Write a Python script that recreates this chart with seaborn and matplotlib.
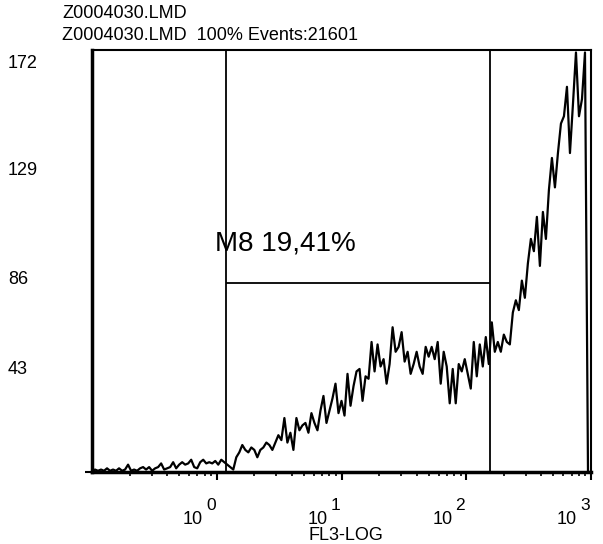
import numpy as np
import pandas as pd
import matplotlib
matplotlib.use('Agg')
import matplotlib.pyplot as plt
import matplotlib.transforms as mtransforms
import seaborn as sns

# histogram counts, channels evenly spaced in log10 from 10^-1 to 10^3
counts = [0, 1, 0.5, 1, 0.5, 1.5, 0.5, 1, 0.5, 1.5,
          0.5, 1, 3, 0.5, 1, 0.5, 1.5, 2, 1, 2,
          0.5, 1.5, 2, 3.5, 1, 1.5, 2, 4, 1.5, 3,
          4, 3, 3.5, 5, 2, 1.5, 4, 5, 3.5, 4,
          3.5, 4.5, 3, 5, 4,
          3, 2, 1, 6, 8, 11, 9, 8, 10, 9,
          6, 9, 10, 12, 11, 9, 12, 15, 13, 22,
          12, 16, 9, 22, 17, 19, 20, 16, 24, 20,
          17, 25, 31, 20, 25, 30, 36, 24, 29, 23,
          40, 27, 35, 41, 42, 29, 39, 38, 53, 41,
          52, 43, 46, 36, 44, 59, 49, 51, 57, 45,
          49, 40, 44, 49, 43, 40, 51, 47, 51, 46,
          53, 36, 49, 43, 28, 42, 28, 44, 41, 46,
          40, 34, 53, 39, 52, 43, 55, 44, 61, 49,
          53, 49, 56, 53, 52, 65, 70, 66, 78, 71,
          85, 95, 90, 104, 84, 106, 95, 115, 128, 116,
          130, 142, 145, 157, 130, 150, 171, 145, 152, 171,
          0, 0]
log_min, log_max = -1, 3
y_ticks = [43, 86, 129, 172]
decades = [0, 1, 2, 3]

gate_low = 1.18
gate_high = 156
gate_level = 77
gate_label = 'M8 19,41%'

title_lines = ['Z0004030.LMD', 'Z0004030.LMD  100% Events:21601']

df = pd.DataFrame({'channel': np.logspace(log_min, log_max, len(counts)),
                   'count': counts})

sns.set_style('white')
plt.rcParams['font.family'] = ['Liberation Sans', 'DejaVu Sans']
plt.rcParams['text.color'] = 'black'
plt.rcParams['axes.labelcolor'] = 'black'
plt.rcParams['xtick.color'] = 'black'
plt.rcParams['ytick.color'] = 'black'

fig = plt.figure(figsize=(6.03, 5.44), dpi=100)
ax = fig.add_axes([92 / 603, 1 - 472 / 544, 499 / 603, 422 / 544])

sns.lineplot(data=df, x='channel', y='count', ax=ax, color='black',
             linewidth=1.6, estimator=None, sort=False)

ax.set_xscale('log')
ax.set_xlim(10 ** log_min, 10 ** log_max)
ax.set_ylim(0, 172)

for s in ax.spines.values():
    s.set_color('black')
    s.set_linewidth(1.5)
ax.spines['left'].set_linewidth(2.5)
ax.spines['bottom'].set_linewidth(2.5)

# gates
ax.axvline(gate_low, color='black', lw=1.3)
ax.axvline(gate_high, color='black', lw=1.3)
ax.hlines(gate_level, gate_low, gate_high, color='black', lw=1.3)
ax.text(0.964, 93, gate_label, fontsize=20, ha='left', va='center')

# y axis: labels sit a little below their values, as in the scan
ax.set_yticks(y_ticks)
ax.set_yticklabels([str(v) for v in y_ticks])
ax.tick_params(axis='y', length=0, pad=60.5, labelsize=13)
label_drop = [1, 16, 13, 12]
for lab, dy in zip(ax.get_yticklabels(), label_drop):
    lab.set_ha('left')
    lab.set_transform(lab.get_transform() +
                      mtransforms.ScaledTranslation(0, -dy / 100, fig.dpi_scale_trans))
ax.set_yticks([0], minor=True)
ax.tick_params(axis='y', which='minor', left=True, length=5, width=1.5,
               direction='out', color='black')

# x axis ticks
ax.set_xticks([10.0 ** d for d in decades])
ax.set_xticklabels(['' for d in decades])
ax.xaxis.set_minor_locator(matplotlib.ticker.LogLocator(base=10, subs=np.arange(2, 10)))
ax.xaxis.set_minor_formatter(matplotlib.ticker.NullFormatter())
ax.tick_params(axis='x', which='major', bottom=True, length=6, width=1.5,
               direction='out', color='black')
ax.tick_params(axis='x', which='minor', bottom=True, length=3, width=1.2,
               direction='out', color='black')

blend = mtransforms.blended_transform_factory(ax.transData, fig.transFigure)
for d in decades:
    t1 = blend + mtransforms.ScaledTranslation(-14 / 100, 0, fig.dpi_scale_trans)
    t2 = blend + mtransforms.ScaledTranslation(-1 / 100, 0, fig.dpi_scale_trans)
    ax.text(10.0 ** d, 1 - 519 / 544, '10', transform=t1, ha='right',
            va='center', fontsize=13)
    ax.text(10.0 ** d, 1 - 505 / 544, str(d), transform=t2, ha='right',
            va='center', fontsize=12.5)

ax.set_xlabel('FL3-LOG', fontsize=13)
ax.xaxis.set_label_coords((346 - 92) / 499, (472 - 535) / 422)
ax.xaxis.label.set_va('center')
ax.set_ylabel('')

for i, line in enumerate(title_lines):
    fig.text(62 / 603, 1 - (14 + 22 * i) / 544, line, fontsize=13,
             ha='left', va='center')

plt.savefig('out.png', dpi=100)
